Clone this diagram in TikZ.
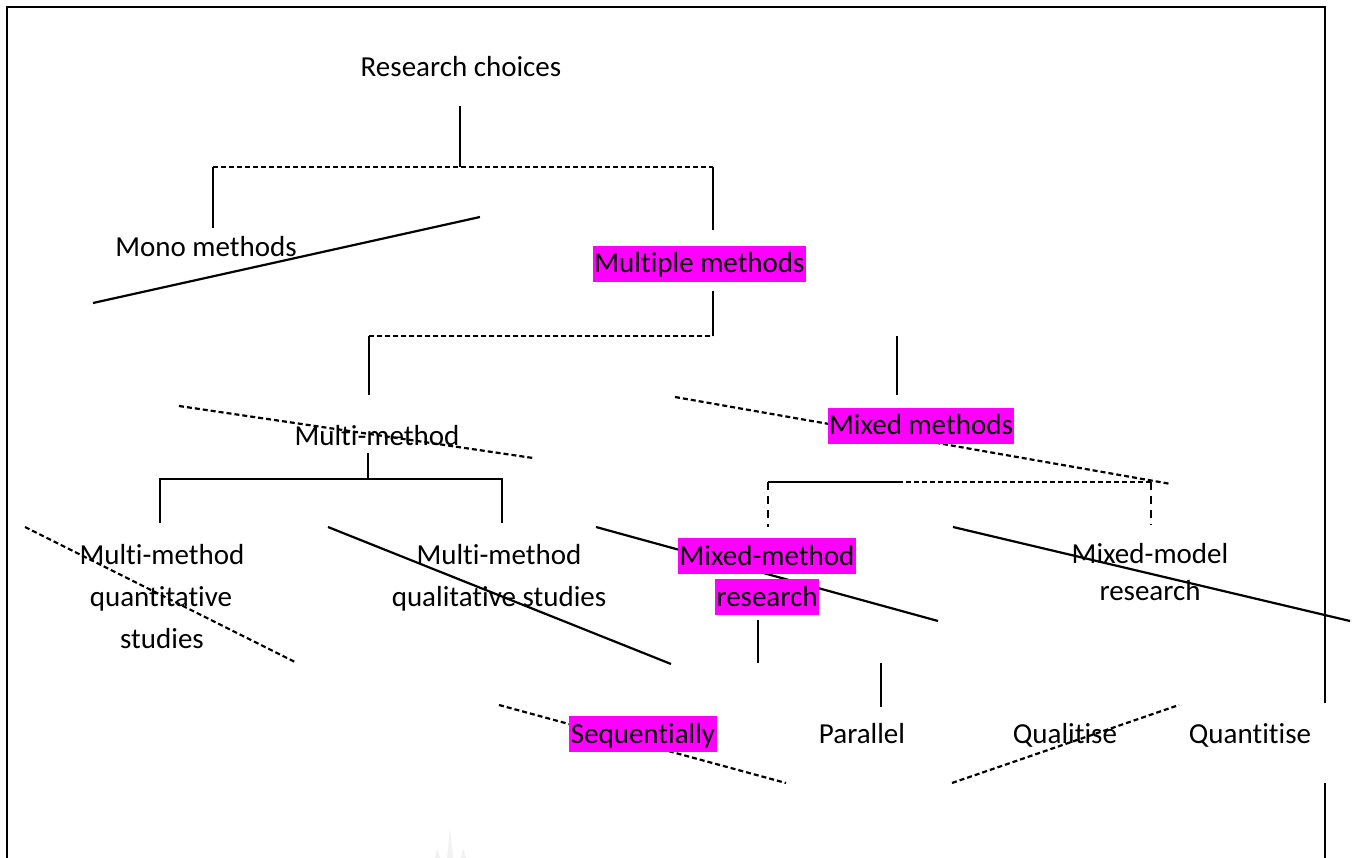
\documentclass[tikz,border=0pt]{standalone}
\usepackage{fontspec}
\setmainfont{Carlito}[RawFeature={-liga;-clig;-dlig;-calt;-rlig}]
\definecolor{hlmag}{HTML}{FF00FF}
\begin{document}
\begin{tikzpicture}[x=1pt,y=-1pt,
  lbl/.style={font=\fontsize{29}{35}\selectfont, inner sep=0pt, anchor=base},
  hl/.style={lbl, fill=hlmag, inner xsep=1.5pt, inner ysep=0pt, text height=27pt, text depth=9pt},
  solidln/.style={line width=2.2pt},
  dashln/.style={line width=2.2pt, dash pattern=on 5pt off 3pt},
  vdashln/.style={line width=2.2pt, dash pattern=on 8pt off 6pt},
  framel/.style={line width=2.6pt}]
\useasboundingbox (0,0) rectangle (1352,858);

% outer frame (open at the bottom and partly on the right)
\coordinate (fBL) at (7,858);
\coordinate (fTL) at (7,7);
\coordinate (fTR) at (1325,7);
\coordinate (fR1) at (1325,703);
\coordinate (fR2) at (1325,783);
\coordinate (fBR) at (1325,858);
\draw[framel] (fBL) -- (fTL) -- (fTR) -- (fR1);
\draw[framel] (fR2) -- (fBR);

% faint mark near the bottom edge
\fill[gray!10] (447,858) -- (450,828) -- (453,858) -- cycle;
\fill[gray!10] (435,858) -- (437,848) -- (440,858) -- cycle;
\fill[gray!10] (461,858) -- (463,848) -- (466,858) -- cycle;

% ---- connector end points ----
\coordinate (rcA) at (460,106);   \coordinate (rcB) at (460,167);
\coordinate (t1L) at (213,167);   \coordinate (t1R) at (713,167);
\coordinate (monoT) at (213,228); \coordinate (multT) at (713,230);
\coordinate (s1A) at (93,303);    \coordinate (s1B) at (480,217);
\coordinate (multB) at (713,291); \coordinate (t2R) at (713,336);
\coordinate (t2L) at (369,336);   \coordinate (mmT) at (369,395);
\coordinate (mxA) at (897,336);   \coordinate (mxB) at (897,395);
\coordinate (d1A) at (179,406);   \coordinate (d1B) at (533,458);
\coordinate (d2A) at (675,397);   \coordinate (d2B) at (1171,484);
\coordinate (mmB) at (368,453);   \coordinate (t3C) at (368,479);
\coordinate (t3L) at (160,479);   \coordinate (t3R) at (502,479);
\coordinate (qnT) at (160,523);   \coordinate (qlT) at (502,523);
\coordinate (t4L) at (768,482);   \coordinate (t4M) at (898,482);
\coordinate (t4R) at (1151,482);
\coordinate (mrT) at (768,527);   \coordinate (mdT) at (1151,525);
\coordinate (d3A) at (25,527);    \coordinate (d3B) at (295,662);
\coordinate (s2A) at (328,527);   \coordinate (s2B) at (671,664);
\coordinate (s3A) at (596,527);   \coordinate (s3B) at (938,621);
\coordinate (s4A) at (953,527);   \coordinate (s4B) at (1350,621);
\coordinate (mrB) at (758,620);   \coordinate (mrC) at (758,663);
\coordinate (paA) at (881,663);   \coordinate (paB) at (881,707);
\coordinate (d4A) at (499,705);   \coordinate (d4B) at (786,783);
\coordinate (d5A) at (952,783);   \coordinate (d5B) at (1179,705);

% ---- solid connectors ----
\draw[solidln] (rcA) -- (rcB);
\draw[solidln] (t1L) -- (monoT);
\draw[solidln] (t1R) -- (multT);
\draw[solidln] (s1A) -- (s1B);
\draw[solidln] (multB) -- (t2R);
\draw[solidln] (t2L) -- (mmT);
\draw[solidln] (mxA) -- (mxB);
\draw[solidln] (mmB) -- (t3C);
\draw[solidln] (qnT) -- (t3L) -- (t3R) -- (qlT);
\draw[solidln] (s2A) -- (s2B);
\draw[solidln] (s3A) -- (s3B);
\draw[solidln] (s4A) -- (s4B);
\draw[solidln] (t4L) -- (t4M);
\draw[solidln] (mrB) -- (mrC);
\draw[solidln] (paA) -- (paB);

% ---- dashed connectors ----
\draw[dashln] (t1L) -- (t1R);
\draw[dashln] (t2L) -- (t2R);
\draw[dashln] (d1A) -- (d1B);
\draw[dashln] (d2A) -- (d2B);
\draw[dashln] (t4M) -- (t4R);
\draw[vdashln] (t4L) -- (mrT);
\draw[vdashln] (t4R) -- (mdT);
\draw[dashln] (d3A) -- (d3B);
\draw[dashln] (d4A) -- (d4B);
\draw[dashln] (d5A) -- (d5B);

% ---- labels ----
\node[lbl] (rc) at (461,77) {Research choices};
\node[lbl] (mono) at (206,257) {Mono methods};
\node[hl] (multi) at (699.5,273) {Multiple methods};
\node[lbl] (mm) at (377,445) {Multi-method};
\node[hl] (mixed) at (921,435) {Mixed methods};
\node[lbl] (qn1) at (162,564) {Multi-method};
\node[lbl] (qn2) at (161,606) {quantitative};
\node[lbl] (qn3) at (162,648) {studies};
\node[lbl] (ql1) at (499,564) {Multi-method};
\node[lbl] (ql2) at (499,606) {qualitative studies};
\node[hl] (mr1) at (767,565) {Mixed-method};
\node[hl] (mr2) at (767,606) {research};
\node[lbl] (md1) at (1150,563) {Mixed-model};
\node[lbl] (md2) at (1150,600) {research};
\node[hl] (seq) at (643,743) {Sequentially};
\node[lbl] (par) at (862,743) {Parallel};
\node[lbl] (qli) at (1065,743) {Qualitise};
\node[lbl] (qti) at (1250,743) {Quantitise};
\end{tikzpicture}
\end{document}
